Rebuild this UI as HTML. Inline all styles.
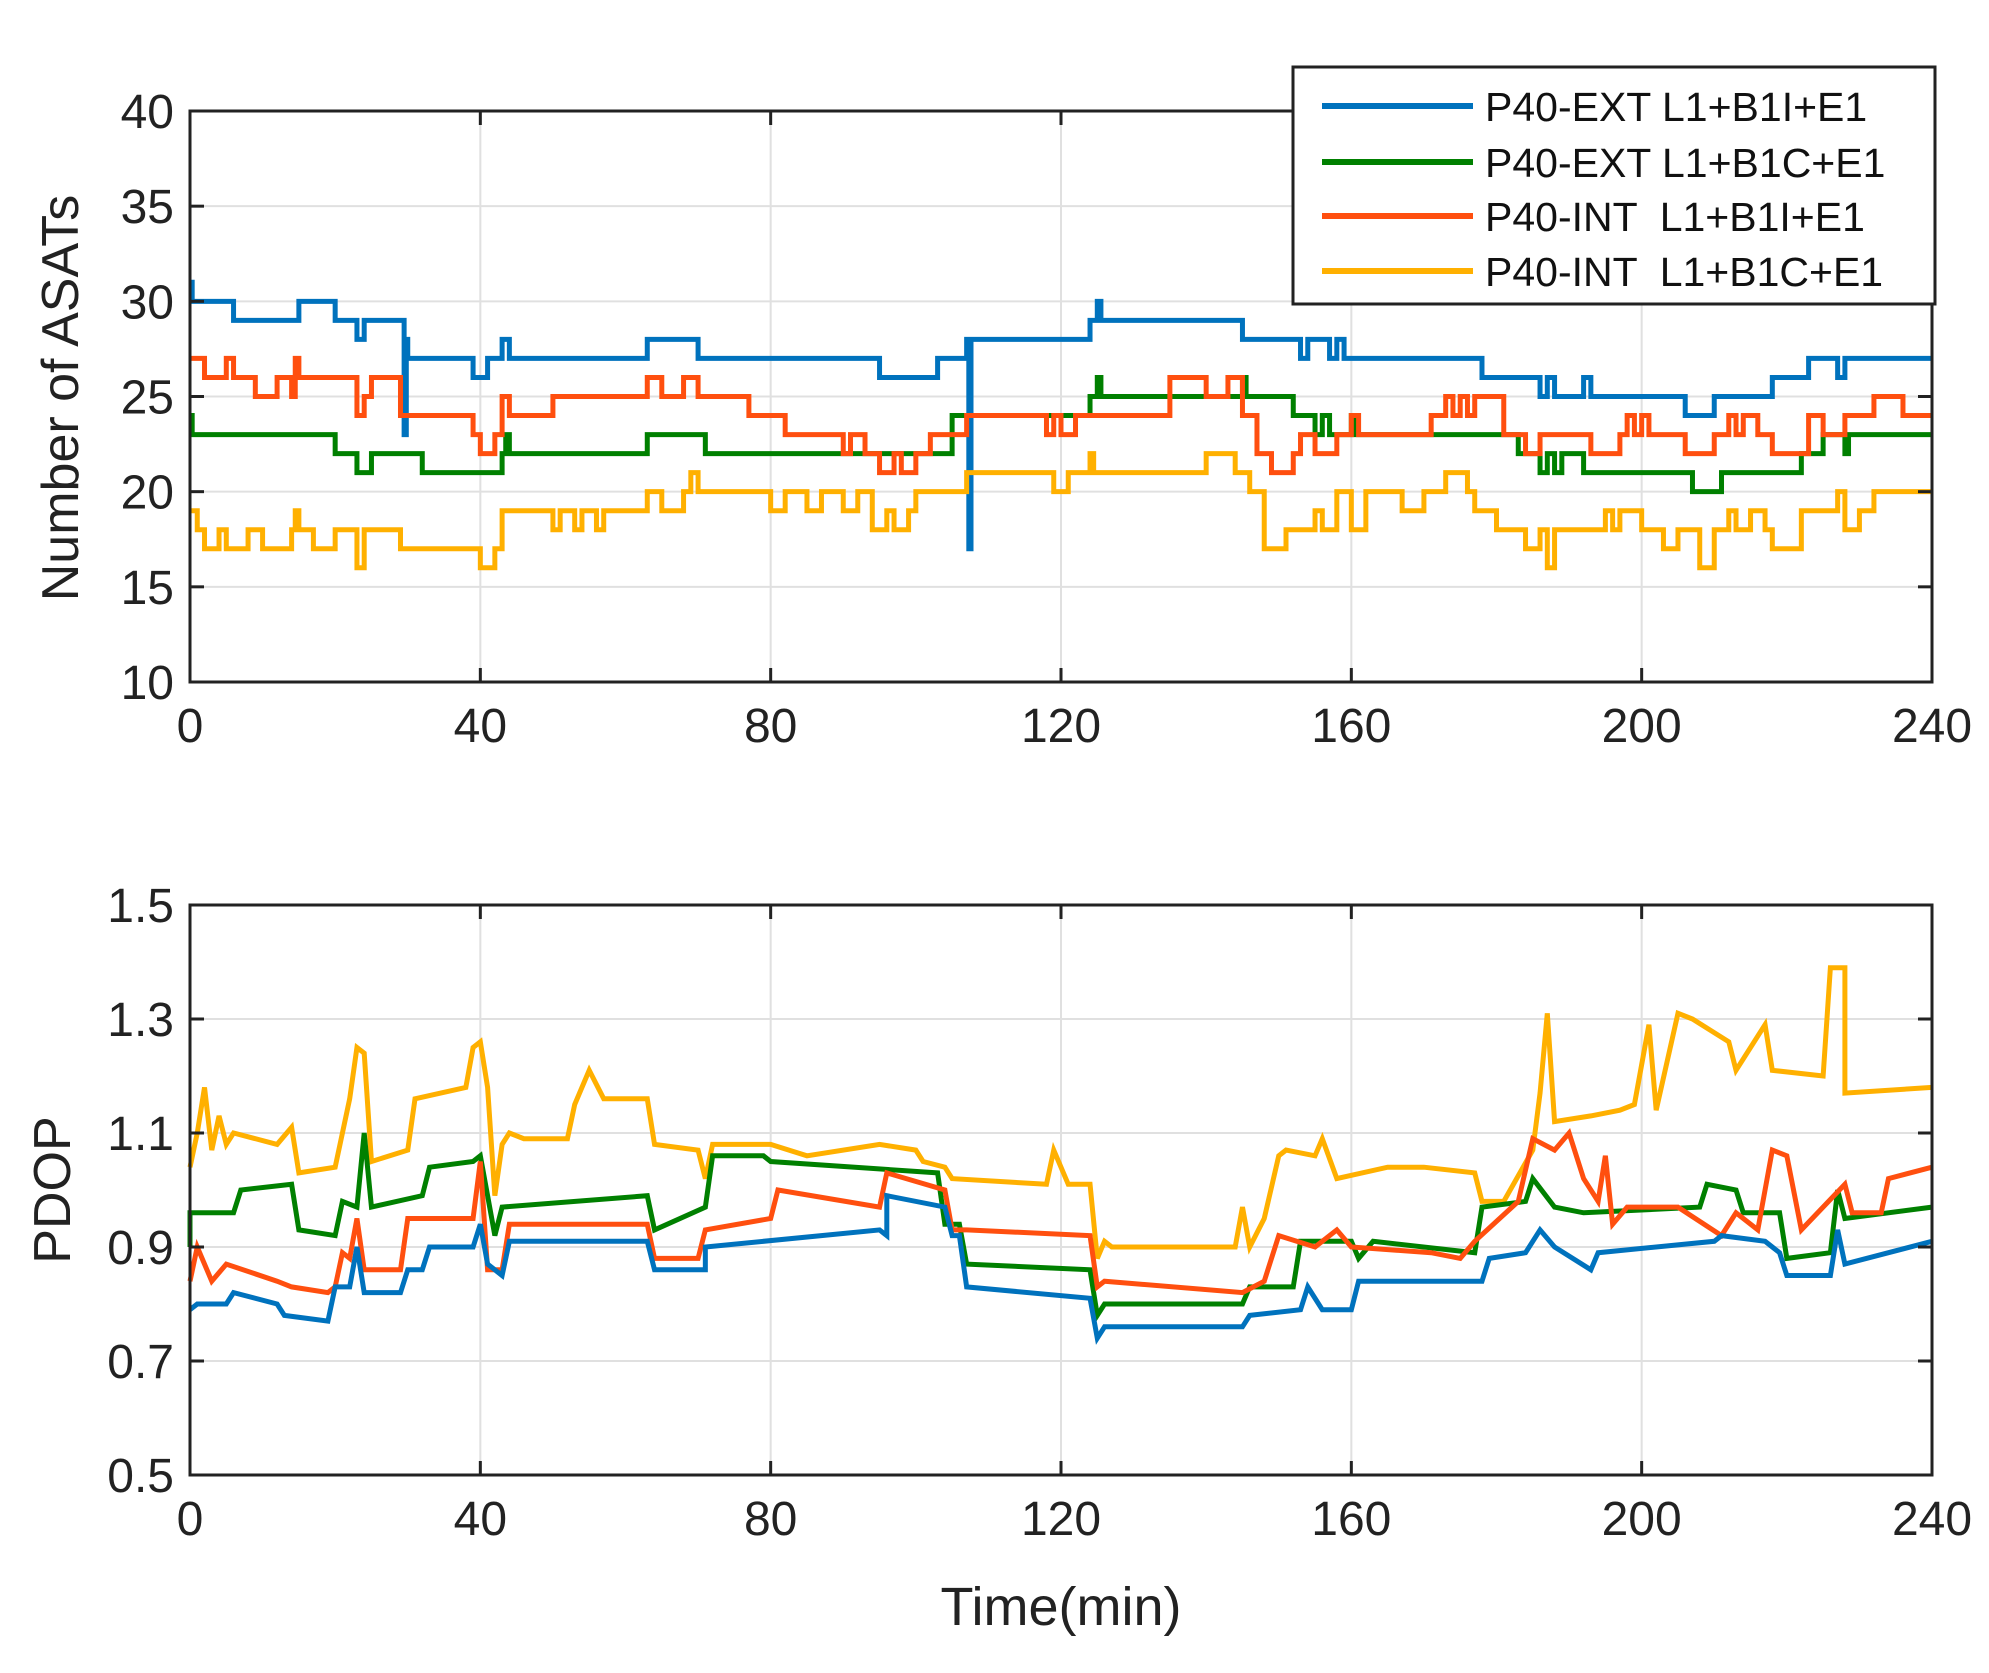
<!DOCTYPE html>
<html><head><meta charset="utf-8"><style>
html,body{margin:0;padding:0;background:#fff;}
svg{display:block;font-family:"Liberation Sans",Arial,sans-serif;}
</style></head><body>
<svg id="s" width="1989" height="1673" xmlns="http://www.w3.org/2000/svg"></svg>
<script>
const S=document.getElementById('s');
let h='';
const X0=190,X1=1932;
const xs=t=>X0+(X1-X0)*t/240;
const T0=682,T1=111; const yt=v=>T0+(T1-T0)*(v-10)/30;
const B0=1475,B1=905; const yb=v=>B0+(B1-B0)*(v-0.5)/1.0;
function grid(top,bot,ys){
 for(let t=40;t<240;t+=40)h+=`<line x1="${xs(t)}" y1="${top}" x2="${xs(t)}" y2="${bot}" stroke="#e0e0e0" stroke-width="2"/>`;
 ys.forEach(y=>h+=`<line x1="${X0}" y1="${y}" x2="${X1}" y2="${y}" stroke="#e0e0e0" stroke-width="2"/>`);
}
grid(T1,T0,[15,20,25,30,35].map(yt));
grid(B1,B0,[0.7,0.9,1.1,1.3].map(yb));
function step(d,fy){let p='';for(let i=0;i<d.length;i++){const [t,v]=d[i];if(i==0)p+=`M${xs(t)},${fy(v)}`;else p+=`H${xs(t)}V${fy(v)}`;}p+=`H${xs(240)}`;return p;}
function poly(d,fy){return 'M'+d.map(([t,v])=>xs(t)+','+fy(v)).join('L');}
const C={b:'#0072bd',g:'#008000',r:'#ff4f0f',y:'#ffb000'};
const blue=[[0,31],[0.3,30],[6,29],[15,30],[20,29],[23,28],[24,29],[29.5,23],[29.8,28],[30,27],[39,26],[41,27],[43,28],[44,27],[63,28],[70,27],[95,26],[103,27],[107,28],[107.3,17],[107.6,28],[124,29],[125,30],[125.5,29],[145,28],[153,27],[154,28],[157,27],[158,28],[159,27],[178,26],[186,25],[187,26],[188,25],[192,26],[193,25],[206,24],[210,25],[218,26],[223,27],[227,26],[228,27]];
const green=[[0,24],[0.3,23],[15,23],[20,22],[23,21],[25,22],[32,21],[43,22],[43.5,23],[44,22],[63,23],[71,22],[105,24],[124,25],[125,26],[125.5,25],[145,26],[145.5,25],[152,24],[155,23],[156,24],[157,23],[160,24],[160.5,23],[183,22],[186,21],[187,22],[188,21],[189,22],[192,21],[207,20],[211,21],[222,22],[225,23],[228,22],[228.5,23]];
const red=[[0,27],[2,26],[5,27],[6,26],[9,25],[12,26],[14,25],[14.5,27],[15,26],[20,26],[23,24],[24,25],[25,26],[29,24],[39,23],[40,22],[42,23],[43,25],[44,24],[50,25],[63,26],[65,25],[68,26],[70,25],[77,24],[82,23],[90,22],[91,23],[93,22],[95,21],[97,22],[98,21],[100,22],[102,23],[107,24],[118,23],[119,24],[120,23],[122,24],[135,26],[140,25],[143,26],[145,24],[147,22],[149,21],[152,22],[153,23],[155,22],[158,23],[160,24],[161,23],[171,24],[173,25],[174,24],[175,25],[176,24],[177,25],[181,23],[184,22],[186,23],[193,22],[197,23],[198,24],[199,23],[200,24],[201,23],[206,22],[210,23],[212,24],[213,23],[214,24],[216,23],[218,22],[223,24],[225,23],[228,24],[232,25],[236,24]];
const yel=[[0,19],[1,18],[2,17],[4,18],[5,17],[8,18],[10,17],[14,18],[14.5,19],[15,18],[17,17],[20,18],[23,16],[24,18],[29,17],[40,16],[42,17],[43,19],[50,18],[51,19],[53,18],[54,19],[56,18],[57,19],[63,20],[65,19],[68,20],[69,21],[70,20],[80,19],[82,20],[85,19],[87,20],[90,19],[92,20],[94,18],[96,19],[97,18],[99,19],[100,20],[107,21],[119,20],[121,21],[124,22],[124.5,21],[140,22],[144,21],[146,20],[148,17],[151,18],[155,19],[156,18],[158,20],[160,18],[162,20],[167,19],[170,20],[173,21],[176,20],[177,19],[180,18],[184,17],[186,18],[187,16],[188,18],[195,19],[196,18],[197,19],[200,18],[203,17],[205,18],[208,16],[210,18],[212,19],[213,18],[215,19],[217,18],[218,17],[222,19],[227,20],[228,18],[230,19],[232,20]];
h+=`<g fill="none" stroke-width="5">`;
h+=`<path d="${step(blue,yt)}" stroke="${C.b}"/><path d="${step(green,yt)}" stroke="${C.g}"/><path d="${step(red,yt)}" stroke="${C.r}"/><path d="${step(yel,yt)}" stroke="${C.y}"/>`;
const pb=[[0,0.79],[1,0.80],[5,0.80],[6,0.82],[12,0.80],[13,0.78],[19,0.77],[20,0.83],[22,0.83],[23,0.90],[24,0.82],[29,0.82],[30,0.86],[32,0.86],[33,0.90],[39,0.90],[40,0.94],[41,0.87],[43,0.85],[44,0.91],[63,0.91],[64,0.86],[71,0.86],[71,0.90],[95,0.93],[96,0.92],[96,0.99],[104,0.97],[105,0.92],[106,0.92],[107,0.83],[124,0.81],[125,0.74],[126,0.76],[145,0.76],[146,0.78],[153,0.79],[154,0.83],[156,0.79],[160,0.79],[161,0.84],[178,0.84],[179,0.88],[184,0.89],[186,0.93],[188,0.90],[193,0.86],[194,0.89],[210,0.91],[211,0.92],[217,0.91],[218,0.90],[219,0.89],[220,0.85],[226,0.85],[227,0.93],[228,0.87],[240,0.91]];
const pg=[[0,0.9],[0,0.96],[6,0.96],[7,1.00],[14,1.01],[15,0.93],[20,0.92],[21,0.98],[23,0.97],[24,1.10],[25,0.97],[32,0.99],[33,1.04],[39,1.05],[40,1.06],[42,0.92],[43,0.97],[63,0.99],[64,0.93],[71,0.97],[72,1.06],[79,1.06],[80,1.05],[103,1.03],[104,0.94],[106,0.94],[107,0.87],[124,0.86],[125,0.78],[126,0.80],[145,0.80],[146,0.83],[152,0.83],[153,0.91],[160,0.91],[161,0.88],[163,0.91],[177,0.89],[178,0.97],[184,0.98],[185,1.02],[188,0.97],[192,0.96],[208,0.97],[209,1.01],[213,1.00],[214,0.96],[219,0.96],[220,0.88],[226,0.89],[227,1.00],[228,0.95],[240,0.97]];
const pr=[[0,0.84],[1,0.90],[3,0.84],[5,0.87],[12,0.84],[14,0.83],[19,0.82],[20,0.83],[21,0.89],[22,0.88],[23,0.95],[24,0.86],[29,0.86],[30,0.95],[39,0.95],[40,1.05],[41,0.86],[43,0.86],[44,0.94],[63,0.94],[64,0.88],[70,0.88],[71,0.93],[80,0.95],[81,1.00],[95,0.97],[96,1.03],[104,1.00],[105,0.93],[107,0.93],[124,0.92],[125,0.83],[126,0.84],[145,0.82],[148,0.84],[149,0.88],[150,0.92],[155,0.90],[158,0.93],[160,0.90],[171,0.89],[175,0.88],[177,0.91],[183,0.98],[185,1.09],[188,1.07],[190,1.10],[192,1.02],[194,0.98],[195,1.06],[196,0.94],[198,0.97],[205,0.97],[211,0.92],[213,0.96],[216,0.93],[218,1.07],[220,1.06],[222,0.93],[228,1.01],[229,0.96],[233,0.96],[234,1.02],[240,1.04]];
const py=[[0,1.04],[1,1.1],[2,1.18],[3,1.07],[4,1.13],[5,1.08],[6,1.10],[12,1.08],[14,1.11],[15,1.03],[20,1.04],[22,1.16],[23,1.25],[24,1.24],[25,1.05],[30,1.07],[31,1.16],[38,1.18],[39,1.25],[40,1.26],[41,1.18],[42,0.99],[43,1.08],[44,1.10],[46,1.09],[52,1.09],[53,1.15],[55,1.21],[57,1.16],[63,1.16],[64,1.08],[70,1.07],[71,1.02],[72,1.08],[80,1.08],[85,1.06],[95,1.08],[100,1.07],[101,1.05],[104,1.04],[105,1.02],[118,1.01],[119,1.07],[121,1.01],[124,1.01],[125,0.88],[126,0.91],[127,0.90],[140,0.90],[144,0.90],[145,0.97],[146,0.90],[148,0.95],[150,1.06],[151,1.07],[155,1.06],[156,1.09],[158,1.02],[165,1.04],[170,1.04],[177,1.03],[178,0.98],[181,0.98],[185,1.07],[186,1.17],[187,1.31],[188,1.12],[193,1.13],[197,1.14],[199,1.15],[201,1.29],[202,1.14],[205,1.31],[207,1.30],[212,1.26],[213,1.21],[217,1.29],[218,1.21],[225,1.20],[226,1.39],[228,1.39],[228,1.17],[240,1.18]];
h+=`<path d="${poly(py,yb)}" stroke="${C.y}"/><path d="${poly(pg,yb)}" stroke="${C.g}"/><path d="${poly(pr,yb)}" stroke="${C.r}"/><path d="${poly(pb,yb)}" stroke="${C.b}"/></g>`;
function axes(top,bot,ticks,fy,labels){
 h+=`<rect x="${X0}" y="${top}" width="${X1-X0}" height="${bot-top}" fill="none" stroke="#222" stroke-width="3"/>`;
 for(let t=0;t<=240;t+=40){h+=`<line x1="${xs(t)}" y1="${bot}" x2="${xs(t)}" y2="${bot-14}" stroke="#222" stroke-width="3"/><line x1="${xs(t)}" y1="${top}" x2="${xs(t)}" y2="${top+14}" stroke="#222" stroke-width="3"/>`;
 h+=`<text x="${xs(t)}" y="${bot+60}" font-size="48" text-anchor="middle" fill="#222">${t}</text>`;}
 ticks.forEach((v,i)=>{const y=fy(v);h+=`<line x1="${X0}" y1="${y}" x2="${X0+14}" y2="${y}" stroke="#222" stroke-width="3"/><line x1="${X1}" y1="${y}" x2="${X1-14}" y2="${y}" stroke="#222" stroke-width="3"/><text x="${X0-16}" y="${y+17}" font-size="48" text-anchor="end" fill="#222">${labels[i]}</text>`;});
}
axes(T1,T0,[10,15,20,25,30,35,40],yt,['10','15','20','25','30','35','40']);
axes(B1,B0,[0.5,0.7,0.9,1.1,1.3,1.5],yb,['0.5','0.7','0.9','1.1','1.3','1.5']);
h+=`<text transform="translate(78,398) rotate(-90)" font-size="52" text-anchor="middle" fill="#222">Number of ASATs</text>`;
h+=`<text transform="translate(70,1190) rotate(-90)" font-size="52" text-anchor="middle" fill="#222">PDOP</text>`;
h+=`<text x="${xs(120)}" y="1625" font-size="54" text-anchor="middle" fill="#222">Time(min)</text>`;
h+=`<rect x="1293" y="67" width="642" height="237" fill="#fff" stroke="#222" stroke-width="3"/>`;
const L=[['P40-EXT L1+B1I+E1',C.b,106],['P40-EXT L1+B1C+E1',C.g,162],['P40-INT  L1+B1I+E1',C.r,216],['P40-INT  L1+B1C+E1',C.y,271]];
L.forEach(([s,c,y])=>{h+=`<line x1="1322" y1="${y}" x2="1473" y2="${y}" stroke="${c}" stroke-width="6"/><text x="1485" y="${y+15}" font-size="41" fill="#111" xml:space="preserve">${s}</text>`;});
S.innerHTML=h;
</script>
</body></html>
